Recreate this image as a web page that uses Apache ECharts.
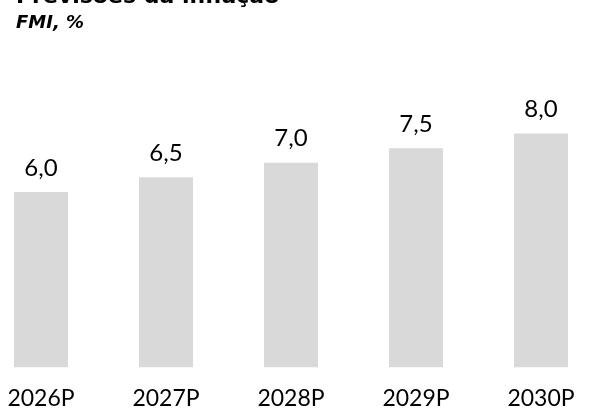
<!DOCTYPE html>
<html>
<head>
<meta charset="utf-8">
<script src="https://cdn.jsdelivr.net/npm/echarts@6/dist/echarts.min.js"></script>
<style>
html,body{margin:0;padding:0;background:#fff;}
#chart{width:591px;height:412px;}
</style>
</head>
<body>
<div id="chart"></div>
<script>
var categories = ['2026P', '2027P', '2028P', '2029P', '2030P'];
var inflation = [6.0, 6.5, 7.0, 7.5, 8.0];
var titleText = 'Previsões da inflação';
var subtitleText = 'FMI, %';

var chart = echarts.init(document.getElementById('chart'), null, {renderer: 'canvas'});
chart.setOption({
  animation: false,
  backgroundColor: '#ffffff',
  title: {
    text: titleText,
    subtext: subtitleText,
    left: 11,
    top: -19,
    itemGap: 6,
    textStyle: {fontFamily: 'DejaVu Sans', fontWeight: 'bold', fontSize: 22, color: '#000'},
    subtextStyle: {fontFamily: 'DejaVu Sans', fontStyle: 'italic', fontWeight: 'bold', fontSize: 18, color: '#000'}
  },
  grid: {left: -21.5, width: 625, top: 75.1, bottom: 412 - 367.3, containLabel: false, outerBoundsMode: 'none'},
  xAxis: {
    type: 'category',
    data: categories,
    boundaryGap: true,
    axisLine: {show: false},
    axisTick: {show: false},
    axisLabel: {margin: 20, fontFamily: 'Lato', fontSize: 23, color: '#000'}
  },
  yAxis: {
    type: 'value',
    min: 0,
    max: 10,
    show: false,
    splitLine: {show: false}
  },
  series: [{
    type: 'bar',
    data: inflation,
    barWidth: 54,
    itemStyle: {color: '#d9d9d9'},
    label: {
      show: true,
      position: 'top',
      distance: 12,
      fontFamily: 'Lato',
      fontSize: 24,
      color: '#000',
      formatter: function (p) { return p.value.toFixed(1).replace('.', ','); }
    }
  }]
});
</script>
</body>
</html>
